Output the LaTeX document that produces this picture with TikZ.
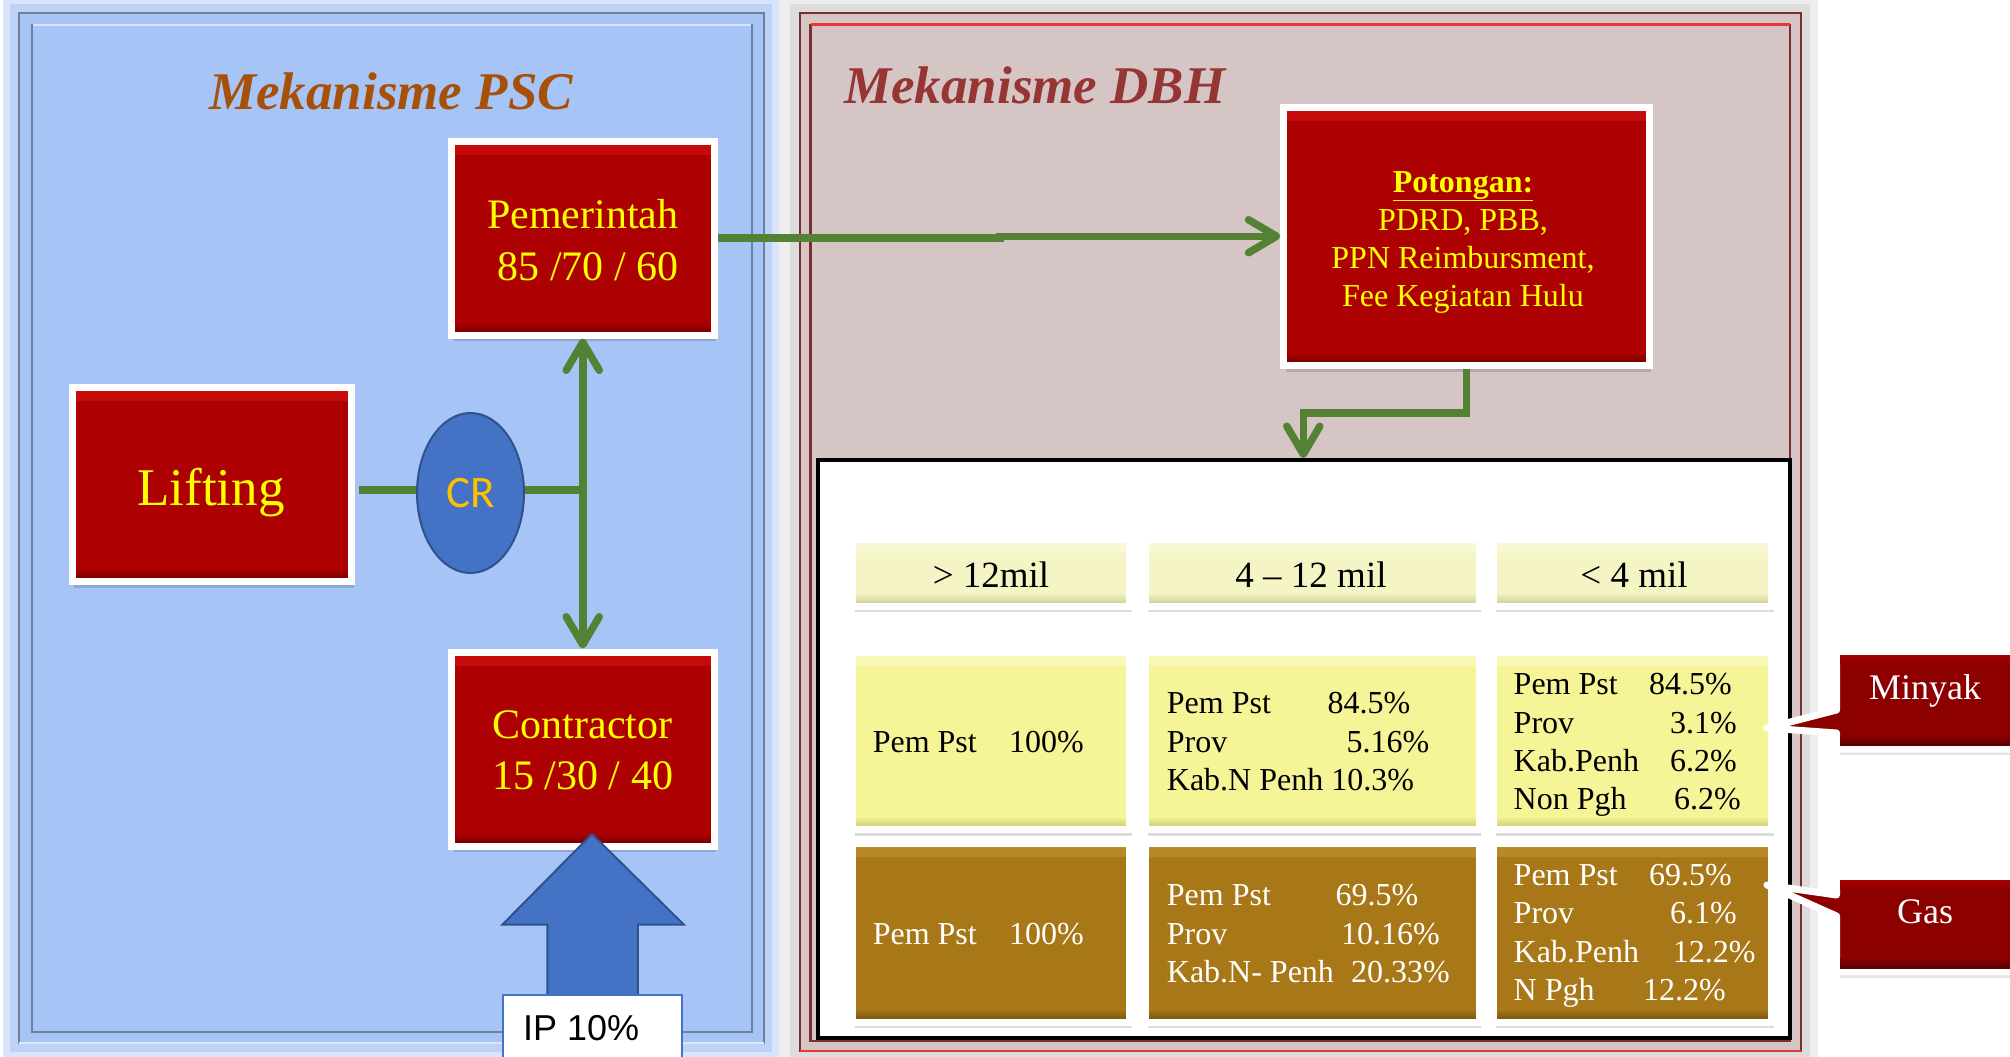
\documentclass[tikz,border=0pt]{standalone}
\usepackage{fontspec}
\setmainfont{Liberation Serif}
\newfontfamily\crfont{Carlito}
\newfontfamily\ipfont{Liberation Sans}
\usetikzlibrary{shapes.geometric,arrows.meta,shadows}
\definecolor{psc}{HTML}{A7C4F6}
\definecolor{pscline}{HTML}{6F7F9C}
\definecolor{glowA}{HTML}{D9E5FB}
\definecolor{glowB}{HTML}{BFD3F9}
\definecolor{shadeA}{HTML}{EDEDED}
\definecolor{shadeB}{HTML}{DCDCDC}
\definecolor{dbh}{HTML}{D6C5C5}
\definecolor{dbhline}{HTML}{7A2E2E}
\definecolor{dbhred}{HTML}{E8353A}
\definecolor{psctitle}{HTML}{A6500A}
\definecolor{dbhtitle}{HTML}{963634}
\definecolor{boxred}{HTML}{AD0000}
\definecolor{bevhi}{HTML}{C80A0A}
\definecolor{bevlo}{HTML}{680000}
\definecolor{flowgreen}{HTML}{548235}
\definecolor{crblue}{HTML}{4472C4}
\definecolor{crline}{HTML}{2F528F}
\definecolor{crtext}{HTML}{FFC000}
\definecolor{hdrY}{HTML}{F4F4C4}
\definecolor{hdrTop}{HTML}{F8F8D8}
\definecolor{hdrBot}{HTML}{C6C68C}
\definecolor{oilY}{HTML}{F5F598}
\definecolor{oilTop}{HTML}{F8F8B8}
\definecolor{oilBot}{HTML}{C5C36A}
\definecolor{gasB}{HTML}{A87818}
\definecolor{gasTop}{HTML}{B88A2A}
\definecolor{gasBot}{HTML}{6F4C08}
\definecolor{callred}{HTML}{8C0000}
\definecolor{calltop}{HTML}{A40000}
\definecolor{callbot}{HTML}{5A0000}
\definecolor{txtyellow}{HTML}{FFFF00}
\begin{document}
\begin{tikzpicture}[x=1pt,y=-1pt,
  bevel/.style n args={3}{path picture={
    \shade[top color=#2,bottom color=#1] (path picture bounding box.north west) rectangle ([yshift=-13pt]path picture bounding box.north east);
    \shade[top color=#1,bottom color=#3] ([yshift=13pt]path picture bounding box.south west) rectangle (path picture bounding box.south east);
  }},
  softshadow/.style={drop shadow={shadow xshift=2pt,shadow yshift=-6pt,opacity=.14,fill=black}},
  redbox/.style={rectangle, draw=white, line width=7pt, fill=boxred, inner sep=0pt, softshadow, bevel={boxred}{bevhi}{bevlo}},
  boxtext/.style={text=txtyellow, inner sep=0pt, font=\fontsize{42}{51.5}\selectfont},
  cellbox/.style={rectangle, draw=white, line width=7pt, inner sep=0pt, softshadow},
  hdrcell/.style={cellbox, fill=hdrY, bevel={hdrY}{hdrTop}{hdrBot}, minimum height=67pt},
  oilcell/.style={cellbox, fill=oilY, bevel={oilY}{oilTop}{oilBot}, minimum height=177.5pt},
  gascell/.style={cellbox, fill=gasB, bevel={gasB}{gasTop}{gasBot}, minimum height=179pt},
  celltext/.style={inner sep=0pt, anchor=base west, font=\fontsize{32}{38.3}\selectfont},
  hdrtext/.style={inner sep=0pt, anchor=base, font=\fontsize{37}{42}\selectfont},
  ttl/.style={inner sep=0pt, font=\fontsize{53}{60}\selectfont\bfseries\itshape},
  barb/.tip={Straight Barb[length=28pt,width=33pt,round]},
  flow/.style={draw=flowgreen, line width=7.5pt},
  calloutbox/.style={fill=callred, draw=white, line width=7pt, line join=round},
  callouttext/.style={inner sep=0pt, anchor=base, text=white, font=\fontsize{36}{40}\selectfont}
]
\useasboundingbox (0,0) rectangle (2010,1057);
\fill[white] (0,0) rectangle (2010,1057);

% glow and shadows behind panels
\fill[shadeA] (772,0) rectangle (1818,1057);
\fill[shadeB] (790,4) rectangle (1810,1057);
\fill[glowA] (3,0) rectangle (779,1057);
\fill[glowB] (10,4) rectangle (772,1052);

% left panel
\filldraw[fill=psc, draw=pscline, line width=2.5pt] (19,13) rectangle (764,1043);
\draw[white!60!psc, line width=2pt] (19,1043) -- (764,1043);
\draw[pscline, line width=2.5pt] (32,25) rectangle (752,1032);
\draw[white!55!psc, line width=2.5pt] (33,25) -- (751,25);

% right panel
\filldraw[fill=dbh, draw=dbhline, line width=2.5pt] (800,13) rectangle (1801,1051);
\draw[dbhred, line width=2.5pt] (800,1051) -- (1801,1051);
\draw[dbhline, line width=2.5pt] (810.5,25) rectangle (1790,1041);
\draw[dbhred, line width=3pt] (810.5,25) -- (1790,25);

% titles
\node[ttl, text=psctitle, anchor=base] (psct) at (391,109) {Mekanisme PSC};
\node[ttl, text=dbhtitle, anchor=base west] (dbht) at (844,103) {Mekanisme DBH};

% PSC boxes
\node[redbox, minimum width=262.5pt, minimum height=194pt] (pem) at (582.75,238) {};
\node[boxtext, anchor=base] (pemT) at (582.75,228.6) {\parbox[t]{250pt}{\centering Pemerintah\\\ 85 /70 / 60}};

\node[redbox, minimum width=279.25pt, minimum height=194pt] (lift) at (211.9,484.5) {};
\node[boxtext, anchor=base, font=\fontsize{53}{60}\selectfont] (liftT) at (211,505) {Lifting};

\node[ellipse, fill=crblue, draw=crline, line width=2pt, minimum width=107pt, minimum height=160pt, inner sep=0pt, text=crtext, font=\crfont\fontsize{45}{50}\selectfont] (cr) at (470.5,493) {CR};

\node[redbox, minimum width=262.5pt, minimum height=194pt] (con) at (582.75,749) {};
\node[boxtext, anchor=base] (conT) at (582.75,738) {\parbox[t]{250pt}{\centering Contractor\\15 /30 / 40}};

% PSC connectors
\coordinate (j) at (582.75,490);
\draw[flow, shorten <=3.5pt] (lift.east |- j) -- (cr.west |- j);
\draw[flow] (cr.east |- j) -- (j);
\draw[flow, barb-barb] (pem.south) -- (con.north);

% IP arrow
\filldraw[fill=crblue, draw=crline, line width=2pt, line join=miter] (592,834) -- (683.7,924.5) -- (637.8,924.5) -- (637.8,996) -- (547.4,996) -- (547.4,924.5) -- (502.5,924.5) -- cycle;
\node[draw=crblue, line width=2pt, fill=white, minimum width=179.5pt, minimum height=70pt, inner sep=0pt] (ip) at (592.25,1030) {};
\node[inner sep=0pt, anchor=base west, font=\ipfont\fontsize{36}{40}\selectfont] (ipT) at (523,1040) {IP 10\%};

% DBH
\node[redbox, minimum width=365.25pt, minimum height=258.5pt] (pot) at (1466.4,236.25) {};
\node[boxtext, anchor=base, font=\fontsize{32}{38}\selectfont] (potT) at (1463,192) {\parbox[t]{350pt}{\centering\textbf{\underline{Potongan:}}\\PDRD, PBB,\\PPN Reimbursment,\\Fee Kegiatan Hulu}};

\draw[flow, -barb] (pem.east) -- (1000,238) |- (pot.west);

\node[draw=black, line width=4pt, fill=white, minimum width=972pt, minimum height=578pt, inner sep=0pt] (tbl) at (1304,749) {};
\coordinate (bend) at (1303.3,413);
\draw[flow, -barb] (pot.south) |- (bend) -- (bend |- tbl.north);

% header cells
\node[hdrcell, minimum width=277pt] (h1) at (991,572.5) {};
\node[hdrcell, minimum width=333.5pt] (h2) at (1312.25,572.5) {};
\node[hdrcell, minimum width=278pt] (h3) at (1632.5,572.5) {};
\node[hdrtext] (h1T) at (991,587) {> 12mil};
\node[hdrtext] (h2T) at (1311,587) {4 -- 12 mil};
\node[hdrtext] (h3T) at (1634,587) {< 4 mil};

% oil cells
\node[oilcell, minimum width=277pt] (o1) at (991,740.75) {};
\node[oilcell, minimum width=333.5pt] (o2) at (1312.25,740.75) {};
\node[oilcell, minimum width=278pt] (o3) at (1632.5,740.75) {};
\node[celltext] (o1T) at (872.6,752.2) {\parbox[t]{250pt}{\makebox[136.4pt][l]{Pem Pst}100\%}};
\node[celltext] (o2T) at (1166.7,713.9) {\parbox[t]{300pt}{\makebox[160.8pt][l]{Pem Pst}84.5\%\\\makebox[179.7pt][l]{Prov}5.16\%\\Kab.N Penh 10.3\%}};
\node[celltext] (o3T) at (1513.5,694.7) {\parbox[t]{250pt}{\makebox[135.5pt][l]{Pem Pst}84.5\%\\\makebox[156.5pt][l]{Prov}3.1\%\\\makebox[156.5pt][l]{Kab.Penh}6.2\%\\\makebox[160.5pt][l]{Non Pgh}6.2\%}};

% gas cells
\node[gascell, minimum width=277pt] (g1) at (991,932.5) {};
\node[gascell, minimum width=333.5pt] (g2) at (1312.25,932.5) {};
\node[gascell, minimum width=278pt] (g3) at (1632.5,932.5) {};
\node[celltext, text=white] (g1T) at (872.6,944) {\parbox[t]{250pt}{\makebox[136.4pt][l]{Pem Pst}100\%}};
\node[celltext, text=white] (g2T) at (1166.7,905.7) {\parbox[t]{300pt}{\makebox[168.7pt][l]{Pem Pst}69.5\%\\\makebox[174.3pt][l]{Prov}10.16\%\\\makebox[184.3pt][l]{Kab.N- Penh}20.33\%}};
\node[celltext, text=white] (g3T) at (1513.5,885.4) {\parbox[t]{250pt}{\makebox[135.5pt][l]{Pem Pst}69.5\%\\\makebox[156.5pt][l]{Prov}6.1\%\\\makebox[159.2pt][l]{Kab.Penh}12.2\%\\\makebox[129.5pt][l]{N Pgh}12.2\%}};

% callouts
\fill[black, opacity=.1] (1839.5,658) rectangle (2030,755);
\filldraw[calloutbox] (1836.5,651.75) -- (2030,651.75) -- (2030,749) -- (1836.5,749) -- (1836.5,733) -- (1767,728) -- (1836.5,710) -- cycle;
\shade[top color=calltop, bottom color=callred] (1840,655.5) rectangle (2010,664);
\shade[top color=callred, bottom color=callbot] (1840,735) rectangle (2010,745.5);
\node[callouttext] (minyak) at (1925,699) {Minyak};

\fill[black, opacity=.1] (1839.5,883) rectangle (2030,978);
\filldraw[calloutbox] (1836.5,876.75) -- (2030,876.75) -- (2030,971.5) -- (1836.5,971.5) -- (1836.5,916) -- (1767,885) -- (1836.5,895) -- cycle;
\shade[top color=calltop, bottom color=callred] (1840,880.5) rectangle (2010,889);
\shade[top color=callred, bottom color=callbot] (1840,958) rectangle (2010,968);
\node[callouttext] (gas) at (1925,923) {Gas};
\end{tikzpicture}
\end{document}
